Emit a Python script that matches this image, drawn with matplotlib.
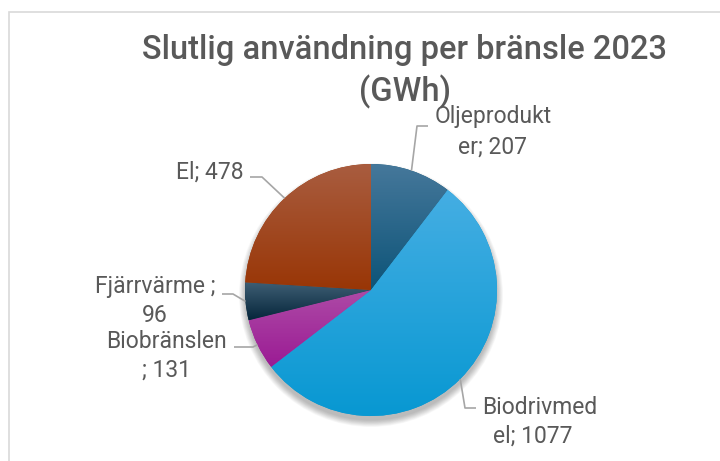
import matplotlib
matplotlib.use("Agg")
import matplotlib.pyplot as plt
import matplotlib.colors as mcolors
from matplotlib.patches import Rectangle, Circle
import numpy as np

plt.rcParams['font.family'] = ['Roboto', 'DejaVu Sans']

# Data
categories = ["Oljeprodukter", "Biodrivmedel", "Biobränslen", "Fjärrvärme", "El"]
values = [207, 1077, 131, 96, 478]
label_lines = [("Oljeprodukt", "er; 207"), ("Biodrivmed", "el; 1077"),
               ("Biobränslen", "; 131"), ("Fjärrvärme ;", "96"), ("El; 478", None)]

# gradient colours per slice (top, bottom)
grad_colors = [("#46789b", "#0d5478"), ("#45aee3", "#0898d2"),
               ("#ad4aa6", "#9b1b94"), ("#3e5e74", "#06263b"),
               ("#a95d40", "#993606")]

TEXT = "#595959"
W, H = 720, 461
CX, CY, R = 371, H - 290, 126

fig = plt.figure(figsize=(7.2, 4.61), dpi=100)
ax = fig.add_axes([0, 0, 1, 1])
ax.set_xlim(0, W)
ax.set_ylim(0, H)
ax.axis('off')

# chart border
ax.add_patch(Rectangle((8.5, -5), W, H - 12.5 + 5, fill=False, ec="#d9d9d9", lw=1.2))

# soft shadow
for i in range(12):
    ax.add_patch(Circle((CX, CY - 5), R + 6 - i * 0.6, color="black", alpha=0.025, lw=0, zorder=1))

wedges, _ = ax.pie(values, startangle=90, counterclock=False, center=(CX, CY), radius=R,
                   colors=[c[1] for c in grad_colors],
                   wedgeprops=dict(linewidth=0, zorder=2), frame=True)
ax.set_xlim(0, W)
ax.set_ylim(0, H)
ax.set_aspect('equal')
ax.axis('off')

# per-slice vertical gradient
for w, (top, bot) in zip(wedges, grad_colors):
    bb = w.get_path().get_extents()
    c1 = np.array(mcolors.to_rgb(top))
    c2 = np.array(mcolors.to_rgb(bot))
    t = np.linspace(0, 1, 100)[:, None]
    img = (c1 * (1 - t) + c2 * t)[:, None, :]
    im = ax.imshow(img, extent=(bb.x0, bb.x1, bb.y0, bb.y1), origin='upper',
                   aspect='auto', zorder=3, interpolation='bilinear')
    im.set_clip_path(w)
ax.set_xlim(0, W)
ax.set_ylim(0, H)

# title
ax.text(405, H - 50, "Slutlig användning per bränsle 2023", ha='center', va='center',
        fontsize=23.5, color=TEXT, fontweight='medium')
ax.text(405, H - 92, "(GWh)", ha='center', va='center', fontsize=23.5, color=TEXT,
        fontweight='medium')

# labels with leader lines: elbow offset and text anchor (pixels)
label_layout = [
    dict(elbow=(417, 126), end=(428, 126), text=(493, 117), text2=(493, 147), ha='center'),
    dict(elbow=(465, 408), end=(476, 408), text=(540, 407), text2=(533, 436), ha='center'),
    dict(elbow=(253, 347), end=(234, 347), text=(166, 342), text2=(166, 370), ha='center'),
    dict(elbow=(233, 294), end=(222, 294), text=(155, 287), text2=(155, 315), ha='center'),
    dict(elbow=(262, 177), end=(250, 177), text=(210, 172), text2=None, ha='center'),
]

theta = 90.0
total = sum(values)
for w, v, lines, lay in zip(wedges, values, label_lines, label_layout):
    ang = theta - v / total * 180.0
    theta -= v / total * 360.0
    ex = CX + R * np.cos(np.radians(ang))
    ey = CY + R * np.sin(np.radians(ang))
    xs = [ex, lay['elbow'][0], lay['end'][0]]
    ys = [ey, H - lay['elbow'][1], H - lay['end'][1]]
    ax.plot(xs, ys, color="#a6a6a6", lw=1.2, zorder=4, solid_capstyle='butt')
    ax.text(lay['text'][0], H - lay['text'][1], lines[0], ha=lay['ha'], va='center',
            fontsize=16.5, color=TEXT)
    if lines[1]:
        ax.text(lay['text2'][0], H - lay['text2'][1], lines[1], ha=lay['ha'], va='center',
                fontsize=16.5, color=TEXT)

fig.savefig("out.png", dpi=100)
